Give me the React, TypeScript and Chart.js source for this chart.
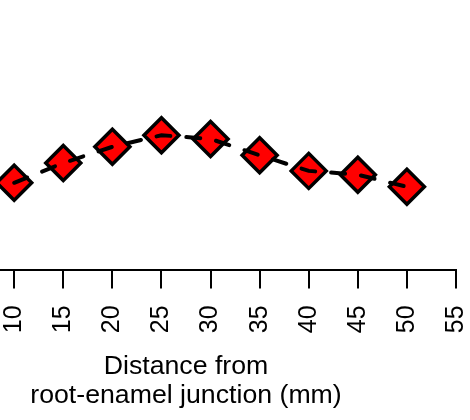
import React, { useEffect, useRef } from "react";
import { Chart, registerables } from "chart.js";

Chart.register(...registerables);

// Data (distance from root-enamel junction, mm) and measured series values
const distances: number[] = [10, 15, 20, 25, 30, 35, 40, 45, 50];
const values: number[] = [32.4, 39.7, 45.7, 50.0, 48.6, 42.6, 36.8, 35.4, 30.9];
const xTicks: number[] = [0, 5, 10, 15, 20, 25, 30, 35, 40, 45, 50, 55];
const xTitle: string[] = ["Distance from", "root-enamel junction (mm)"];

const FONT = "'Liberation Sans', Arial, Helvetica, sans-serif";

export default function App() {
  const ref = useRef<HTMLCanvasElement | null>(null);

  useEffect(() => {
    document.body.style.margin = "0";
    const canvas = ref.current;
    if (!canvas) return;
    const pts = distances.map((d, i) => ({ x: d, y: values[i] }));
    const chart = new Chart(canvas, {
      type: "line",
      data: {
        datasets: [
          {
            data: pts,
            borderColor: "#000000",
            borderWidth: 4,
            borderDash: [14, 16],
            borderCapStyle: "round",
            pointRadius: 0,
            pointHoverRadius: 0,
            fill: false,
            tension: 0,
            order: 0,
          },
          {
            data: pts,
            showLine: false,
            pointStyle: "rectRot",
            pointRadius: 17.5,
            pointHoverRadius: 17.5,
            pointBackgroundColor: "#ff0000",
            pointBorderColor: "#000000",
            pointBorderWidth: 3.5,
            order: 1,
          },
        ],
      },
      options: {
        responsive: false,
        animation: false,
        events: [],
        layout: { autoPadding: false, padding: { left: 16, right: 14, top: 0, bottom: 0 } },
        plugins: {
          legend: { display: false },
          tooltip: { enabled: false },
          title: { display: false },
        },
        scales: {
          x: {
            type: "linear",
            min: 0,
            max: 55,
            afterBuildTicks: (scale: any) => {
              scale.ticks = xTicks.map((v) => ({ value: v }));
            },
            afterFit: (scale: any) => {
              scale.paddingLeft = 0;
              scale.paddingRight = 0;
            },
            ticks: {
              minRotation: 90,
              maxRotation: 90,
              padding: 17,
              color: "#000000",
              font: { family: FONT, size: 25 },
            },
            grid: {
              display: true,
              drawOnChartArea: false,
              drawTicks: true,
              tickLength: 18,
              color: "#000000",
              lineWidth: 2,
              tickWidth: 2,
            },
            border: { display: true, color: "#000000", width: 2 },
            title: {
              display: true,
              text: xTitle,
              color: "#000000",
              font: { family: FONT, size: 26.7, lineHeight: 1.12 },
              padding: { top: 1, bottom: 9 },
            },
          },
          y: {
            display: false,
            min: 0,
            max: 100,
          },
        },
      },
    });
    return () => chart.destroy();
  }, []);

  return (
    <div
      style={{
        position: "fixed",
        left: 0,
        top: 0,
        width: 470,
        height: 420,
        overflow: "hidden",
        background: "#ffffff",
      }}
    >
      <canvas
        ref={ref}
        width={570}
        height={420}
        style={{ position: "absolute", left: -100, top: 0, width: 570, height: 420 }}
      />
    </div>
  );
}
